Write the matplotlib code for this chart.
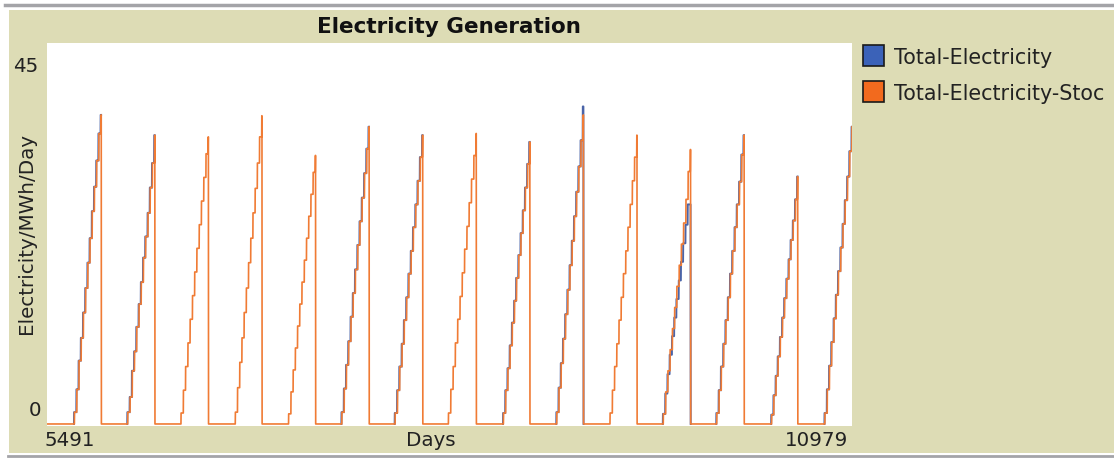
import numpy as np
import matplotlib
matplotlib.use('Agg')
import matplotlib.pyplot as plt
from matplotlib.patches import Rectangle
from matplotlib.lines import Line2D

# day range shown on the x axis
day_min = 5491
day_max = 10979

# day each yearly ramp starts, and day it drops back to zero
rise_start = [5682, 6045, 6408, 6778, 7141, 7504, 7867, 8230, 8605, 8968,
              9331, 9694, 10058, 10432, 10795]
drop_day = [5865, 6230, 6595, 6960, 7325, 7690, 8055, 8420, 8785, 9150,
            9515, 9880, 10245, 10610, 10981]

# stair levels of Total-Electricity-Stoc for each ramp (last value = short peak)
stoc_levels = [
    [1.4, 4.1, 7.5, 10.2, 13.2, 16.1, 19.1, 22.0, 25.2, 28.1, 31.2, 34.4, 36.6],
    [1.4, 3.2, 6.3, 8.6, 11.5, 14.2, 16.8, 19.7, 22.2, 25.0, 28.0, 30.9, 34.2],
    [1.3, 4.0, 6.8, 9.6, 12.4, 15.2, 18.0, 20.8, 23.6, 26.4, 29.2, 32.0, 34.0],
    [1.4, 4.3, 7.3, 10.2, 13.2, 16.1, 19.1, 22.0, 25.0, 27.9, 30.9, 34.0, 36.5],
    [1.2, 3.8, 6.4, 9.0, 11.6, 14.2, 16.8, 19.4, 22.0, 24.6, 27.2, 29.8, 31.8],
    [1.4, 4.2, 7.0, 9.8, 12.7, 15.5, 18.3, 21.2, 24.0, 26.8, 29.7, 32.6, 35.2],
    [1.3, 4.0, 6.8, 9.5, 12.3, 15.0, 17.8, 20.5, 23.3, 26.0, 28.8, 31.6, 34.2],
    [1.3, 4.1, 6.8, 9.6, 12.4, 15.1, 17.9, 20.7, 23.4, 26.2, 29.0, 31.8, 34.4],
    [1.3, 4.0, 6.6, 9.3, 12.0, 14.6, 17.3, 20.0, 22.6, 25.3, 28.0, 30.8, 33.4],
    [1.4, 4.3, 7.2, 10.1, 13.0, 15.9, 18.8, 21.7, 24.6, 27.5, 30.5, 33.6, 36.6],
    [1.3, 4.0, 6.8, 9.5, 12.3, 15.0, 17.8, 20.5, 23.3, 26.0, 28.8, 31.6, 34.2],
    [1.2, 3.8, 6.3, 8.8, 11.3, 13.8, 16.3, 18.8, 21.3, 23.8, 26.6, 29.9, 32.5],
    [1.3, 4.0, 6.8, 9.5, 12.3, 15.0, 17.8, 20.5, 23.3, 26.0, 28.7, 31.9, 34.2],
    [1.1, 3.4, 5.7, 8.0, 10.3, 12.6, 14.9, 17.2, 19.5, 21.8, 24.1, 26.6, 29.3],
    [1.3, 4.1, 6.9, 9.7, 12.5, 15.3, 18.1, 20.9, 23.7, 26.5, 29.3, 32.3, 35.2],
]

# Total-Electricity: same stairs except where it differs
elec_levels = [list(lv) for lv in stoc_levels]
elec_levels[9][-1] = 37.6
elec_levels[11] = [1.2, 3.6, 5.9, 8.2, 10.4, 12.6, 14.8, 17.0, 19.2, 21.4, 23.6, 26.0, 26.0]
# days the Total-Electricity steps come earlier than the stochastic ones
elec_lead = [3, 3, 0, 0, 0, 3, 3, 0, 3, 3, 0, 3, 3, 3, 3]

days = np.arange(day_min, day_max + 1)


def stairs(levels, lead):
    y = np.zeros(len(days))
    for lv, s, d, sh in zip(levels, rise_start, drop_day, lead):
        n = len(lv) - 1
        edges = np.linspace(s, d - 2, n + 1) - sh
        for k in range(n):
            y[(days >= edges[k]) & (days < edges[k + 1])] = lv[k]
        y[(days >= edges[-1]) & (days < d)] = lv[-1]
    return y


elec = stairs(elec_levels, elec_lead)
stoc = stairs(stoc_levels, [0] * len(stoc_levels))

# blue only shows where the two series part; elsewhere it sits under orange
diff = elec != stoc
near = diff | np.roll(diff, 1) | np.roll(diff, -1)
elec_shown = np.where(near, elec, np.nan)

W, H = 1114, 458
fig = plt.figure(figsize=(W / 100, H / 100), dpi=100)
fig.patch.set_facecolor('white')
bg = '#dddcb5'
fig.patches.append(Rectangle((9 / W, 1 - 453 / H), 1 - 9 / W, (453 - 10) / H,
                             transform=fig.transFigure, facecolor=bg,
                             edgecolor='none', zorder=-10))
fig.lines.append(Line2D([5 / W, 1], [1 - 5 / H, 1 - 5 / H], transform=fig.transFigure,
                        color='#a4a4a8', lw=2.5, zorder=-5))
fig.lines.append(Line2D([8 / W, 1], [1 - 456 / H, 1 - 456 / H], transform=fig.transFigure,
                        color='#a4a4a8', lw=2.0, zorder=-5))

ax = fig.add_axes([46.5 / W, 1 - 426 / H, (852 - 46.5) / W, (426 - 43.3) / H])
ax.set_zorder(5)
ax.set_facecolor('white')
ax.plot(days, elec_shown, color='#4a64a8', lw=1.4)
ax.plot(days, stoc, color='#f07b34', lw=1.2)
ax.set_xlim(day_min, day_max)
ax.set_ylim(-0.24, 45.08)
ax.set_xticks([])
ax.set_yticks([])
for s in ax.spines.values():
    s.set_visible(False)

fs = 14.3
txt = '#222222'
fig.text(449 / W, 1 - 27 / H, 'Electricity Generation', ha='center', va='center',
         fontsize=15.5, fontweight='bold', color='#111111')
fig.text(27 / W, 1 - 234 / H, 'Electricity/MWh/Day', rotation=90, ha='center',
         va='center', fontsize=fs, color=txt)
fig.text(26 / W, 1 - 67 / H, '45', ha='center', va='center', fontsize=fs, color=txt)
fig.text(35 / W, 1 - 410 / H, '0', ha='center', va='center', fontsize=fs, color=txt)
fig.text(45 / W, 1 - 440 / H, str(day_min), ha='left', va='center', fontsize=fs, color=txt)
fig.text(848 / W, 1 - 440 / H, str(day_max), ha='right', va='center', fontsize=fs, color=txt)
fig.text(431 / W, 1 - 440 / H, 'Days', ha='center', va='center', fontsize=fs, color=txt)

# legend
legend_names = ['Total-Electricity', 'Total-Electricity-Stoc']
legend_colors = ['#3b62b8', '#f26a1e']
for i, (name, col) in enumerate(zip(legend_names, legend_colors)):
    yc = 56 + i * 36
    fig.patches.append(Rectangle((863 / W, 1 - (yc + 10) / H), 21 / W, 21 / H,
                                 transform=fig.transFigure, facecolor=col,
                                 edgecolor='#1a1a1a', lw=1.2))
    fig.text(894 / W, 1 - (yc + 2) / H, name, ha='left', va='center',
             fontsize=14.9, color=txt)

fig.savefig('out.png', dpi=100, facecolor=fig.get_facecolor())
